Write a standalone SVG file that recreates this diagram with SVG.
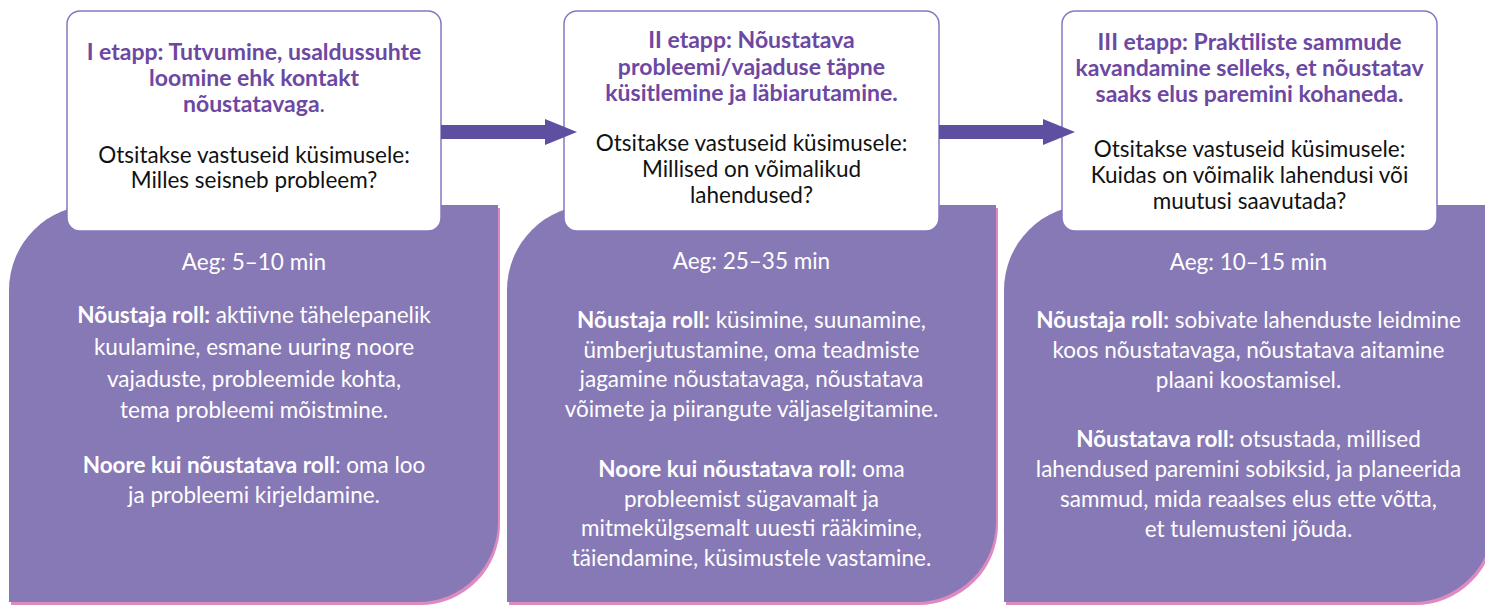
<svg xmlns="http://www.w3.org/2000/svg" width="1485" height="605" viewBox="0 0 1485 605">
<defs>
<marker id="ah" markerUnits="userSpaceOnUse" markerWidth="32" markerHeight="26" refX="0" refY="13" orient="auto">
<path d="M0,0 L32,13 L0,26 Z" fill="#5e4fa0"/>
</marker>
<style>
.panel{fill:#8779b5}
.shadow{fill:#dc8ac0}
.card{fill:#ffffff;stroke:#8577c0;stroke-width:1.5}
.title{font-family:Lato,"Open Sans",sans-serif;font-size:23px;font-weight:bold;fill:#6c48a2;text-anchor:middle}
.q{font-family:Lato,"Open Sans",sans-serif;font-size:22.5px;fill:#111111;text-anchor:middle}
.body{font-family:Lato,"Open Sans",sans-serif;font-size:22.5px;fill:#ffffff;text-anchor:middle}
.b{font-weight:bold}
.n{font-weight:normal}
.conn{stroke:#5e4fa0;stroke-width:14;fill:none}
</style>
</defs>
<rect width="1485" height="605" fill="#ffffff"/>

<g id="panel1">
<path class="shadow" transform="translate(2,3)" d="M9,290 A85,85 0 0 1 94,205 L498,205 L498,522 A80,80 0 0 1 418,602 L9,602 Z"/>
<path class="panel" d="M9,290 A85,85 0 0 1 94,205 L498,205 L498,522 A80,80 0 0 1 418,602 L9,602 Z"/>
<text class="body" x="254" y="270">Aeg: 5–10 min</text>
<text class="body" x="254" y="323"><tspan class="b">Nõustaja roll:</tspan> aktiivne tähelepanelik</text>
<text class="body" x="254" y="355">kuulamine, esmane uuring noore</text>
<text class="body" x="254" y="387">vajaduste, probleemide kohta,</text>
<text class="body" x="254" y="418">tema probleemi mõistmine.</text>
<text class="body" x="254" y="473"><tspan class="b">Noore kui nõustatava roll</tspan>: oma loo</text>
<text class="body" x="254" y="503">ja probleemi kirjeldamine.</text>
</g>

<g id="panel2">
<path class="shadow" transform="translate(2,3)" d="M507,290 A85,85 0 0 1 592,205 L996,205 L996,522 A80,80 0 0 1 916,602 L507,602 Z"/>
<path class="panel" d="M507,290 A85,85 0 0 1 592,205 L996,205 L996,522 A80,80 0 0 1 916,602 L507,602 Z"/>
<text class="body" x="751.5" y="269">Aeg: 25–35 min</text>
<text class="body" x="751.5" y="328"><tspan class="b">Nõustaja roll:</tspan> küsimine, suunamine,</text>
<text class="body" x="751.5" y="358">ümberjutustamine, oma teadmiste</text>
<text class="body" x="751.5" y="387">jagamine nõustatavaga, nõustatava</text>
<text class="body" x="751.5" y="417">võimete ja piirangute väljaselgitamine.</text>
<text class="body" x="751.5" y="477"><tspan class="b">Noore kui nõustatava roll:</tspan> oma</text>
<text class="body" x="751.5" y="507">probleemist sügavamalt ja</text>
<text class="body" x="751.5" y="536">mitmekülgsemalt uuesti rääkimine,</text>
<text class="body" x="751.5" y="566">täiendamine, küsimustele vastamine.</text>
</g>

<g id="panel3">
<path class="shadow" transform="translate(2,3)" d="M1004,290 A85,85 0 0 1 1089,205 L1493,205 L1493,522 A80,80 0 0 1 1413,602 L1004,602 Z"/>
<path class="panel" d="M1004,290 A85,85 0 0 1 1089,205 L1493,205 L1493,522 A80,80 0 0 1 1413,602 L1004,602 Z"/>
<text class="body" x="1248.5" y="270">Aeg: 10–15 min</text>
<text class="body" x="1248.5" y="328"><tspan class="b">Nõustaja roll:</tspan> sobivate lahenduste leidmine</text>
<text class="body" x="1248.5" y="358">koos nõustatavaga, nõustatava aitamine</text>
<text class="body" x="1248.5" y="388">plaani koostamisel.</text>
<text class="body" x="1248.5" y="447"><tspan class="b">Nõustatava roll:</tspan> otsustada, millised</text>
<text class="body" x="1248.5" y="477">lahendused paremini sobiksid, ja planeerida</text>
<text class="body" x="1248.5" y="507">sammud, mida reaalses elus ette võtta,</text>
<text class="body" x="1248.5" y="537">et tulemusteni jõuda.</text>
</g>

<g id="card1">
<rect class="card" x="67" y="11" width="374" height="220" rx="13"/>
<text class="title" x="254" y="60">I etapp: Tutvumine, usaldussuhte</text>
<text class="title" x="254" y="86">loomine ehk kontakt</text>
<text class="title" x="254" y="112">nõustatavaga<tspan class="n">.</tspan></text>
<text class="q" x="254" y="163">Otsitakse vastuseid küsimusele:</text>
<text class="q" x="254" y="188">Milles seisneb probleem?</text>
</g>

<g id="card2">
<rect class="card" x="564" y="11" width="375" height="220" rx="13"/>
<text class="title" x="751.5" y="48">II etapp: Nõustatava</text>
<text class="title" x="751.5" y="75">probleemi/vajaduse täpne</text>
<text class="title" x="751.5" y="101">küsitlemine ja läbiarutamine.</text>
<text class="q" x="751.5" y="151">Otsitakse vastuseid küsimusele:</text>
<text class="q" x="751.5" y="177">Millised on võimalikud</text>
<text class="q" x="751.5" y="203">lahendused?</text>
</g>

<g id="card3">
<rect class="card" x="1062" y="11" width="375" height="220" rx="13"/>
<text class="title" x="1249.5" y="50">III etapp: Praktiliste sammude</text>
<text class="title" x="1249.5" y="76">kavandamine selleks, et nõustatav</text>
<text class="title" x="1249.5" y="102">saaks elus paremini kohaneda.</text>
<text class="q" x="1249.5" y="157">Otsitakse vastuseid küsimusele:</text>
<text class="q" x="1249.5" y="183">Kuidas on võimalik lahendusi või</text>
<text class="q" x="1249.5" y="209">muutusi saavutada?</text>
</g>

<g id="connectors">
<line class="conn" x1="441" y1="132" x2="545" y2="132" marker-end="url(#ah)"/>
<line class="conn" x1="939" y1="132" x2="1043" y2="132" marker-end="url(#ah)"/>
</g>
</svg>
